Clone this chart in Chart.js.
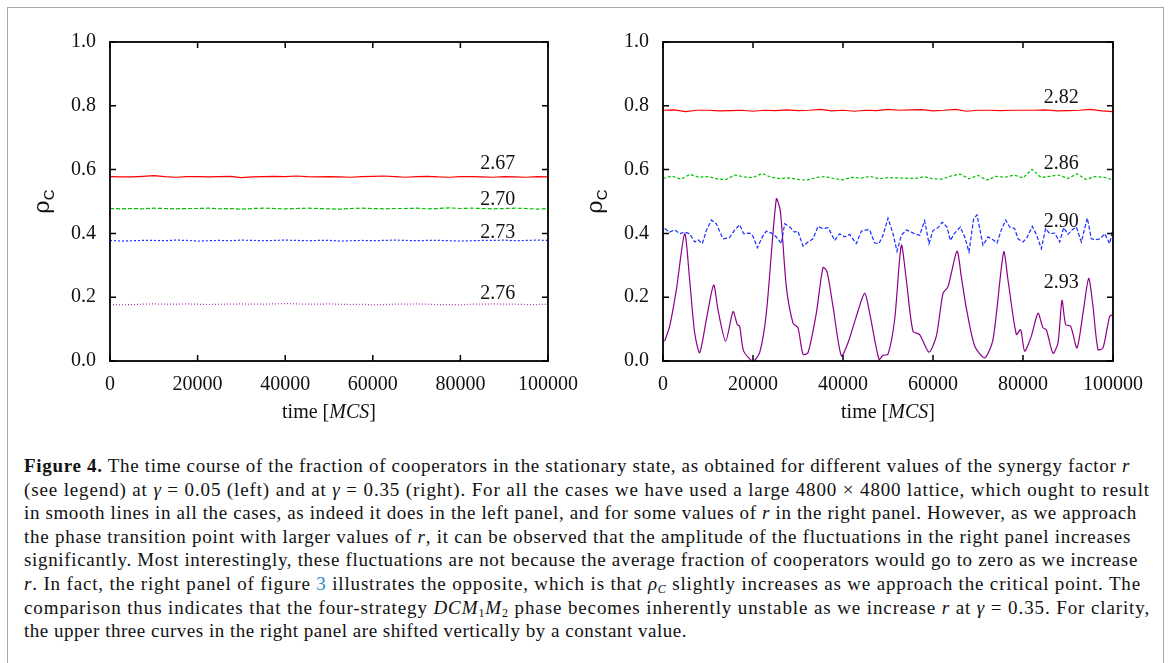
<!DOCTYPE html>
<html>
<head>
<meta charset="utf-8">
<script src="https://cdn.jsdelivr.net/npm/chart.js@4/dist/chart.umd.min.js"></script>
<style>
  html, body { margin: 0; padding: 0; background: #fff; }
  body { width: 1171px; height: 663px; position: relative; overflow: hidden; font-family: "Liberation Serif", "DejaVu Serif", serif; }
  #frame { position: absolute; left: 7px; top: 7px; width: 1155px; height: 700px; border: 1px solid #a8a8a8; }
  .panel { position: absolute; top: 0; height: 430px; }
  #leftBox { left: 0; width: 590px; }
  #rightBox { left: 590px; width: 581px; }
  #caption { position: absolute; left: 24px; top: 454px; font-size: 19px; line-height: 23.6px; color: #111; }
  #caption div { white-space: nowrap; height: 23.6px; }
  #caption sub { font-size: 12px; line-height: 0; vertical-align: -3px; }
  .lnk { color: #2a86c8; }
</style>
</head>
<body>
<div id="frame"></div>
<div class="panel" id="leftBox"><canvas id="leftChart"></canvas></div>
<div class="panel" id="rightBox"><canvas id="rightChart"></canvas></div>
<div id="caption">
  <div><b>Figure 4.</b> The time course of the fraction of cooperators in the stationary state, as obtained for different values of the synergy factor <i>r</i></div>
  <div>(see legend) at <i>γ</i> = 0.05 (left) and at <i>γ</i> = 0.35 (right). For all the cases we have used a large 4800 × 4800 lattice, which ought to result</div>
  <div>in smooth lines in all the cases, as indeed it does in the left panel, and for some values of <i>r</i> in the right panel. However, as we approach</div>
  <div>the phase transition point with larger values of <i>r</i>, it can be observed that the amplitude of the fluctuations in the right panel increases</div>
  <div>significantly. Most interestingly, these fluctuations are not because the average fraction of cooperators would go to zero as we increase</div>
  <div><i>r</i>. In fact, the right panel of figure <span class="lnk">3</span> illustrates the opposite, which is that <i>ρ<sub>C</sub></i> slightly increases as we approach the critical point. The</div>
  <div>comparison thus indicates that the four-strategy <i>DCM</i><sub>1</sub><i>M</i><sub>2</sub> phase becomes inherently unstable as we increase <i>r</i> at <i>γ</i> = 0.35. For clarity,</div>
  <div>the upper three curves in the right panel are shifted vertically by a constant value.</div>
</div>
<script>
// ---- data (time in MCS, fraction of cooperators) ----
const timeA = [0, 2500, 5000, 7500, 10000, 12500, 15000, 17500, 20000, 22500, 25000, 27500, 30000, 32500, 35000, 37500, 40000, 42500, 45000, 47500, 50000, 52500, 55000, 57500, 60000, 62500, 65000, 67500, 70000, 72500, 75000, 77500, 80000, 82500, 85000, 87500, 90000, 92500, 95000, 97500, 100000];
const timeB = [0, 2000, 4000, 6000, 8000, 10000, 12000, 14000, 16000, 18000, 20000, 22000, 24000, 26000, 28000, 30000, 32000, 34000, 36000, 38000, 40000, 42000, 44000, 46000, 48000, 50000, 52000, 54000, 56000, 58000, 60000, 62000, 64000, 66000, 68000, 70000, 72000, 74000, 76000, 78000, 80000, 82000, 84000, 86000, 88000, 90000, 92000, 94000, 96000, 98000, 100000];

// left panel, gamma = 0.05
const left267 = [0.578, 0.577, 0.577, 0.579, 0.581, 0.578, 0.576, 0.578, 0.578, 0.577, 0.578, 0.579, 0.575, 0.577, 0.578, 0.579, 0.578, 0.580, 0.578, 0.577, 0.578, 0.577, 0.576, 0.578, 0.579, 0.580, 0.578, 0.576, 0.578, 0.579, 0.577, 0.576, 0.578, 0.578, 0.577, 0.576, 0.578, 0.577, 0.576, 0.578, 0.577];
const left270 = [0.478, 0.477, 0.478, 0.477, 0.479, 0.478, 0.477, 0.478, 0.478, 0.479, 0.477, 0.478, 0.476, 0.478, 0.479, 0.478, 0.477, 0.478, 0.479, 0.478, 0.477, 0.476, 0.478, 0.479, 0.478, 0.477, 0.478, 0.478, 0.479, 0.477, 0.478, 0.480, 0.478, 0.479, 0.478, 0.477, 0.478, 0.479, 0.478, 0.476, 0.478];
const left273 = [0.378, 0.376, 0.377, 0.378, 0.378, 0.377, 0.379, 0.378, 0.376, 0.377, 0.378, 0.377, 0.379, 0.378, 0.377, 0.378, 0.379, 0.378, 0.377, 0.378, 0.378, 0.376, 0.377, 0.378, 0.377, 0.378, 0.379, 0.378, 0.377, 0.378, 0.378, 0.377, 0.376, 0.377, 0.378, 0.378, 0.379, 0.377, 0.378, 0.379, 0.378];
const left276 = [0.177, 0.176, 0.177, 0.178, 0.179, 0.178, 0.178, 0.179, 0.178, 0.177, 0.178, 0.178, 0.179, 0.178, 0.178, 0.179, 0.180, 0.179, 0.178, 0.178, 0.179, 0.178, 0.177, 0.178, 0.176, 0.177, 0.178, 0.178, 0.179, 0.178, 0.177, 0.177, 0.176, 0.178, 0.178, 0.179, 0.178, 0.178, 0.177, 0.177, 0.178];

// right panel, gamma = 0.35
const right282 = [0.786, 0.787, 0.782, 0.786, 0.786, 0.784, 0.785, 0.786, 0.783, 0.786, 0.785, 0.787, 0.785, 0.786, 0.789, 0.784, 0.786, 0.783, 0.786, 0.785, 0.789, 0.786, 0.787, 0.788, 0.784, 0.786, 0.789, 0.783, 0.786, 0.786, 0.785, 0.786, 0.786, 0.786, 0.787, 0.784, 0.785, 0.786, 0.789, 0.784, 0.782];
const right286 = [0.572, 0.580, 0.570, 0.585, 0.576, 0.578, 0.571, 0.569, 0.583, 0.577, 0.575, 0.588, 0.576, 0.572, 0.574, 0.569, 0.567, 0.575, 0.578, 0.572, 0.568, 0.576, 0.573, 0.579, 0.571, 0.575, 0.574, 0.573, 0.572, 0.578, 0.571, 0.570, 0.580, 0.586, 0.571, 0.582, 0.567, 0.579, 0.576, 0.583, 0.574, 0.601, 0.575, 0.579, 0.583, 0.572, 0.587, 0.569, 0.578, 0.576, 0.568];
const time290 = [370, 1481, 2593, 3704, 4815, 5926, 7037, 7778, 8741, 9630, 10741, 11852, 13333, 14815, 15926, 17037, 17926, 19259, 20000, 20963, 22074, 22963, 24074, 25185, 26296, 27037, 28148, 29259, 30000, 31111, 32222, 33333, 34444, 35556, 36667, 37407, 38148, 39259, 40370, 41481, 42963, 44074, 45185, 45926, 47037, 48000, 48889, 50000, 51111, 52000, 52963, 54074, 55185, 55926, 57037, 58148, 59111, 60000, 61111, 62074, 63111, 63852, 64815, 66074, 67037, 68000, 69037, 69778, 71111, 72222, 73333, 74222, 75185, 76148, 77037, 78148, 78889, 80000, 80889, 82074, 82963, 84074, 85037, 85926, 87037, 88148, 89037, 90000, 90741, 91852, 92963, 94296, 95185, 96148, 97185, 98148, 99259, 100000];
const right290 = [0.415, 0.404, 0.411, 0.399, 0.404, 0.399, 0.373, 0.380, 0.368, 0.409, 0.442, 0.430, 0.383, 0.387, 0.411, 0.427, 0.399, 0.401, 0.391, 0.355, 0.389, 0.407, 0.401, 0.389, 0.368, 0.430, 0.420, 0.404, 0.407, 0.360, 0.373, 0.383, 0.422, 0.415, 0.418, 0.399, 0.378, 0.399, 0.389, 0.397, 0.368, 0.407, 0.411, 0.411, 0.370, 0.368, 0.394, 0.448, 0.399, 0.344, 0.394, 0.411, 0.404, 0.399, 0.394, 0.440, 0.368, 0.409, 0.418, 0.435, 0.420, 0.378, 0.401, 0.420, 0.389, 0.342, 0.446, 0.458, 0.363, 0.389, 0.380, 0.370, 0.411, 0.442, 0.420, 0.415, 0.383, 0.373, 0.387, 0.422, 0.397, 0.352, 0.415, 0.399, 0.401, 0.373, 0.418, 0.397, 0.409, 0.420, 0.373, 0.448, 0.383, 0.380, 0.383, 0.399, 0.368, 0.415];
const time293 = [370, 1481, 2963, 4815, 5926, 7037, 8148, 9630, 11259, 12222, 13926, 15556, 16519, 17037, 17926, 20000, 21481, 22963, 25185, 26074, 27407, 28889, 30000, 31111, 32222, 34074, 35556, 36444, 37778, 39630, 41111, 42963, 44815, 45926, 48000, 48889, 50000, 51481, 52963, 54074, 55556, 57037, 59111, 60741, 62222, 63333, 65333, 66296, 67407, 69259, 71481, 73333, 75704, 76667, 78519, 79481, 80370, 81852, 83333, 84444, 85185, 86667, 87778, 88667, 89481, 90593, 92000, 93333, 94593, 95556, 96667, 97778, 99259, 100000];
const right293 = [0.062, 0.109, 0.223, 0.399, 0.254, 0.088, 0.026, 0.130, 0.238, 0.160, 0.062, 0.155, 0.114, 0.109, 0.031, 0.000, 0.026, 0.150, 0.508, 0.470, 0.233, 0.119, 0.104, 0.021, 0.026, 0.150, 0.293, 0.280, 0.171, 0.016, 0.057, 0.140, 0.212, 0.150, 0.005, 0.018, 0.021, 0.130, 0.363, 0.254, 0.093, 0.083, 0.028, 0.078, 0.212, 0.233, 0.344, 0.264, 0.166, 0.047, 0.010, 0.067, 0.342, 0.254, 0.083, 0.098, 0.031, 0.078, 0.150, 0.104, 0.098, 0.024, 0.057, 0.190, 0.114, 0.109, 0.041, 0.150, 0.259, 0.171, 0.036, 0.041, 0.140, 0.145];

// curve labels (value of r) and where they sit
const leftTags = ['2.67', '2.70', '2.73', '2.76'];
const leftTagY = [0.618, 0.505, 0.403, 0.210];
const rightTags = ['2.82', '2.86', '2.90', '2.93'];
const rightTagY = [0.824, 0.618, 0.436, 0.245];
const tagX = 88500;

const xTicks = [0, 20000, 40000, 60000, 80000, 100000];
const yTicks = [0.0, 0.2, 0.4, 0.6, 0.8, 1.0];

// caption line right edges in the reference
const captionEnds = [1130, 1150, 1137, 1131, 1138, 1141, 1150, 687];

const pairs = (xs, ys) => ys.map((v, i) => ({ x: xs[i], y: v }));

function line(xs, ys, color, dash, width, tension) {
  return {
    data: pairs(xs, ys),
    borderColor: color,
    borderWidth: width || 1.2,
    borderDash: dash || [],
    pointRadius: 0,
    tension: tension || 0,
    fill: false
  };
}

// frame, mirrored inward ticks, curve labels and axis titles
const gnuplotFrame = {
  id: 'gnuplotFrame',
  afterDraw(chart, args, opts) {
    const { ctx, chartArea: a, scales: { x, y } } = chart;
    ctx.save();
    ctx.strokeStyle = '#000';
    ctx.lineWidth = 1.8;
    ctx.strokeRect(a.left, a.top, a.right - a.left, a.bottom - a.top);
    ctx.lineWidth = 1.5;
    ctx.beginPath();
    xTicks.forEach(v => {
      const px = x.getPixelForValue(v);
      ctx.moveTo(px, a.bottom); ctx.lineTo(px, a.bottom - 6);
      ctx.moveTo(px, a.top); ctx.lineTo(px, a.top + 6);
    });
    yTicks.forEach(v => {
      const py = y.getPixelForValue(v);
      ctx.moveTo(a.left, py); ctx.lineTo(a.left + 6, py);
      ctx.moveTo(a.right, py); ctx.lineTo(a.right - 6, py);
    });
    ctx.stroke();

    ctx.fillStyle = '#111';
    ctx.font = '20px "Liberation Serif", serif';
    ctx.textAlign = 'center';
    ctx.textBaseline = 'middle';
    opts.tags.forEach((t, i) => {
      ctx.fillText(t, x.getPixelForValue(tagX), y.getPixelForValue(opts.tagY[i]));
    });

    // x title: time [MCS]
    const cx = (a.left + a.right) / 2;
    const ty = a.bottom + 52;
    const fUp = '20px "Liberation Serif", serif';
    const fIt = 'italic 20px "Liberation Serif", serif';
    ctx.textAlign = 'left';
    ctx.font = fUp; const w1 = ctx.measureText('time [').width; const w3 = ctx.measureText(']').width;
    ctx.font = fIt; const w2 = ctx.measureText('MCS').width;
    const sx = cx - (w1 + w2 + w3) / 2;
    ctx.font = fUp; ctx.fillText('time [', sx, ty);
    ctx.font = fIt; ctx.fillText('MCS', sx + w1, ty);
    ctx.font = fUp; ctx.fillText(']', sx + w1 + w2, ty);

    // y title: rho_C rotated
    ctx.translate(a.left - 65, (a.top + a.bottom) / 2);
    ctx.rotate(-Math.PI / 2);
    ctx.textBaseline = 'alphabetic';
    ctx.font = '23px "DejaVu Serif", serif';
    const wr = ctx.measureText('ρ').width;
    ctx.font = '15px "Liberation Sans", sans-serif';
    const wc = ctx.measureText('C').width;
    ctx.font = '23px "DejaVu Serif", serif';
    ctx.fillText('ρ', -(wr + wc) / 2, 4);
    ctx.font = '15px "Liberation Sans", sans-serif';
    ctx.fillText('C', -(wr + wc) / 2 + wr, 9);
    ctx.restore();
  }
};

function makeChart(id, datasets, yWidth, padRight, tags, tagY) {
  return new Chart(document.getElementById(id), {
    type: 'line',
    data: { datasets },
    plugins: [gnuplotFrame],
    options: {
      responsive: true,
      maintainAspectRatio: false,
      animation: false,
      layout: { padding: { top: 42, right: padRight, bottom: 0, left: 0 } },
      plugins: {
        legend: { display: false },
        tooltip: { enabled: false },
        gnuplotFrame: { tags, tagY }
      },
      scales: {
        x: {
          type: 'linear', min: 0, max: 100000,
          grid: { display: false, drawTicks: false },
          border: { display: false },
          afterBuildTicks: s => { s.ticks = xTicks.map(v => ({ value: v })); },
          afterFit: s => { s.height = 69; },
          ticks: { padding: 12, color: '#111', maxRotation: 0, font: { family: '"Liberation Serif", serif', size: 20 }, callback: v => String(v) }
        },
        y: {
          min: 0, max: 1,
          grid: { display: false, drawTicks: false },
          border: { display: false },
          afterBuildTicks: s => { s.ticks = yTicks.map(v => ({ value: v })); },
          afterFit: s => { s.width = yWidth; },
          ticks: { padding: 14, color: '#111', font: { family: '"Liberation Serif", serif', size: 20 }, callback: v => v.toFixed(1) }
        }
      }
    }
  });
}

makeChart('leftChart', [
  line(timeA, left267, '#ff0000'),
  line(timeA, left270, '#00c000', [4, 2]),
  line(timeA, left273, '#1a2cff', [2, 2]),
  line(timeA, left276, '#b030b0', [1, 2])
], 110, 32, leftTags, leftTagY);

makeChart('rightChart', [
  line(timeA, right282, '#ff0000'),
  line(timeB, right286, '#00c000', [3, 2]),
  line(time290, right290, '#1a2cff', [4, 2]),
  line(time293, right293, '#8b008b', [], 1.2, 0.25)
], 73, 58, rightTags, rightTagY);

// stretch each caption line to the width it has in the reference
document.querySelectorAll('#caption div').forEach((el, i) => {
  const r = document.createRange();
  r.selectNodeContents(el);
  const w = r.getBoundingClientRect().width;
  const n = el.textContent.trim().length;
  const target = captionEnds[i] - 24;
  el.style.letterSpacing = ((target - w) / n).toFixed(3) + 'px';
});
</script>
</body>
</html>
